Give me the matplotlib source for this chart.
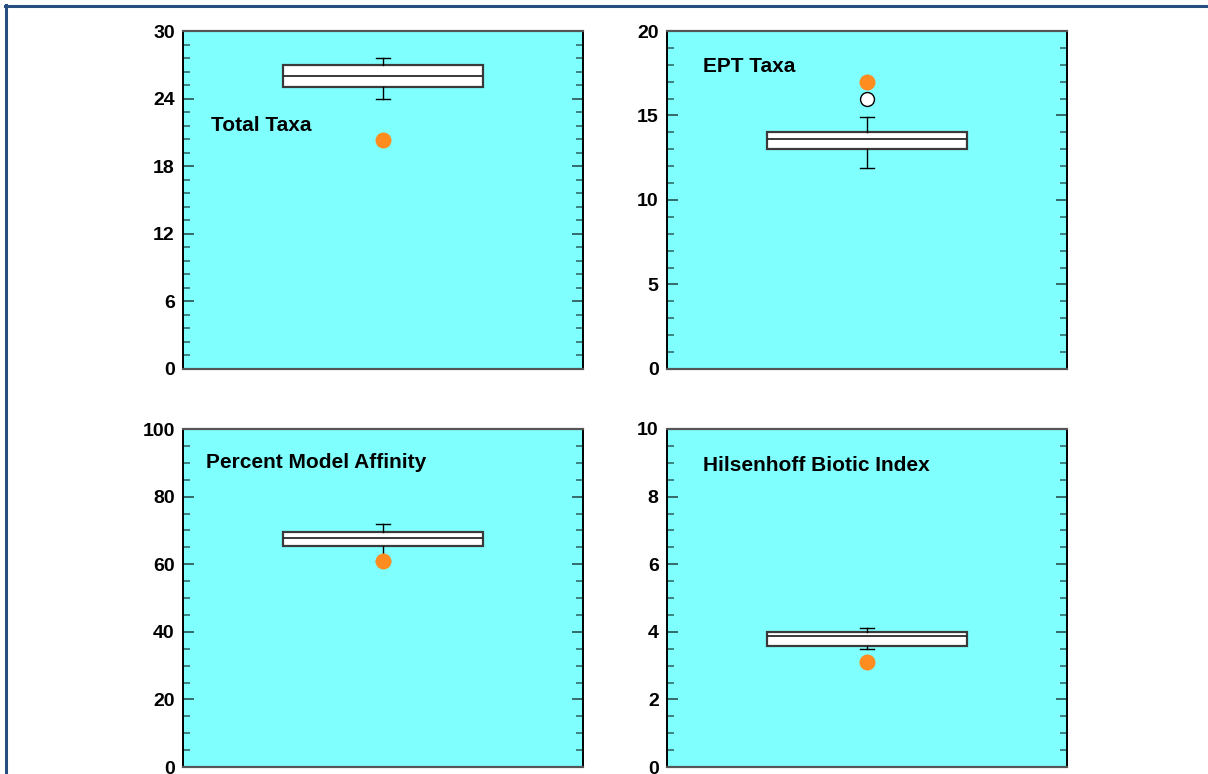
import numpy as np
import matplotlib
matplotlib.use("Agg")
import matplotlib.pyplot as plt
from matplotlib.lines import Line2D
from matplotlib.ticker import MultipleLocator, AutoMinorLocator

# -------------------------------- Data --------------------------------
panel_titles = ["Total Taxa", "EPT Taxa", "Percent Model Affinity", "Hilsenhoff Biotic Index"]
whisker_low = [24.0, 11.9, 61.0, 3.5]
box_low = [25.0, 13.0, 65.5, 3.58]
medians = [26.0, 13.6, 67.8, 3.88]
box_high = [27.0, 14.0, 69.5, 4.0]
whisker_high = [27.6, 14.9, 71.9, 4.1]
outliers = [[], [16.0], [], []]
site_values = [20.3, 17.0, 61.0, 3.1]

y_max = [30, 20, 100, 10]
y_major = [6, 5, 20, 2]
y_minor_div = [5, 5, 4, 4]

# -------------------------------- Layout --------------------------------
W, H = 1208, 774
fig = plt.figure(figsize=(W / 100, H / 100), dpi=100)
fig.patch.set_facecolor("white")

# panel corners in pixels (left, top)
panel_px = [(183, 31), (667, 31), (183, 429), (667, 429)]
panel_w, panel_h = 400, 338
title_pos = [(0.07, 0.72), (0.09, 0.895), (0.058, 0.9), (0.09, 0.893)]

font = "Liberation Sans"
bg = "#80FFFF"
orange = "#FF8C1F"

for i in range(4):
    left, top = panel_px[i]
    ax = fig.add_axes([left / W, (H - top - panel_h) / H, panel_w / W, panel_h / H])
    ax.set_facecolor(bg)

    stats = [{
        "whislo": whisker_low[i], "q1": box_low[i], "med": medians[i],
        "q3": box_high[i], "whishi": whisker_high[i], "fliers": outliers[i],
    }]
    ax.bxp(stats, positions=[0.5], widths=0.5, capwidths=0.036,
           patch_artist=True,
           boxprops=dict(facecolor="white", edgecolor="#3a3a3a", linewidth=1.6),
           medianprops=dict(color="#2a2a2a", linewidth=1.3),
           whiskerprops=dict(color="black", linewidth=1.0),
           capprops=dict(color="black", linewidth=1.0),
           flierprops=dict(marker="o", markersize=10, markerfacecolor="white",
                           markeredgecolor="black", markeredgewidth=1.0),
           zorder=2)

    ax.plot([0.5], [site_values[i]], "o", color=orange, markersize=11.5,
            markeredgewidth=0, zorder=4)

    ax.set_xlim(0, 1)
    ax.set_ylim(0, y_max[i])
    ax.set_xticks([])
    ax.yaxis.set_major_locator(MultipleLocator(y_major[i]))
    ax.yaxis.set_minor_locator(AutoMinorLocator(y_minor_div[i]))
    ax.tick_params(axis="y", which="both", direction="in", left=True, right=True,
                   color="#2f5f5f")
    ax.tick_params(axis="y", which="major", length=8, width=1.3, pad=6)
    ax.tick_params(axis="y", which="minor", length=5, width=1.1)
    for lab in ax.get_yticklabels():
        lab.set_fontfamily(font)
        lab.set_fontweight("bold")
        lab.set_fontsize(14)

    for side in ["left", "right"]:
        ax.spines[side].set_color("black")
        ax.spines[side].set_linewidth(1.4)
    for side in ["top", "bottom"]:
        ax.spines[side].set_color("#555555")
        ax.spines[side].set_linewidth(1.6)

    ax.text(title_pos[i][0], title_pos[i][1], panel_titles[i], transform=ax.transAxes,
            fontfamily=font, fontweight="bold", fontsize=15, ha="left", va="center")

# page frame along the top and left edges
frame = "#284E80"
fig.add_artist(Line2D([5 / W, 1.0], [1 - 6.3 / H, 1 - 6.3 / H], color=frame,
                      linewidth=2.2, transform=fig.transFigure))
fig.add_artist(Line2D([6.3 / W, 6.3 / W], [0.0, 1 - 5 / H], color=frame,
                      linewidth=2.2, transform=fig.transFigure))

fig.savefig("out.png", dpi=100)
